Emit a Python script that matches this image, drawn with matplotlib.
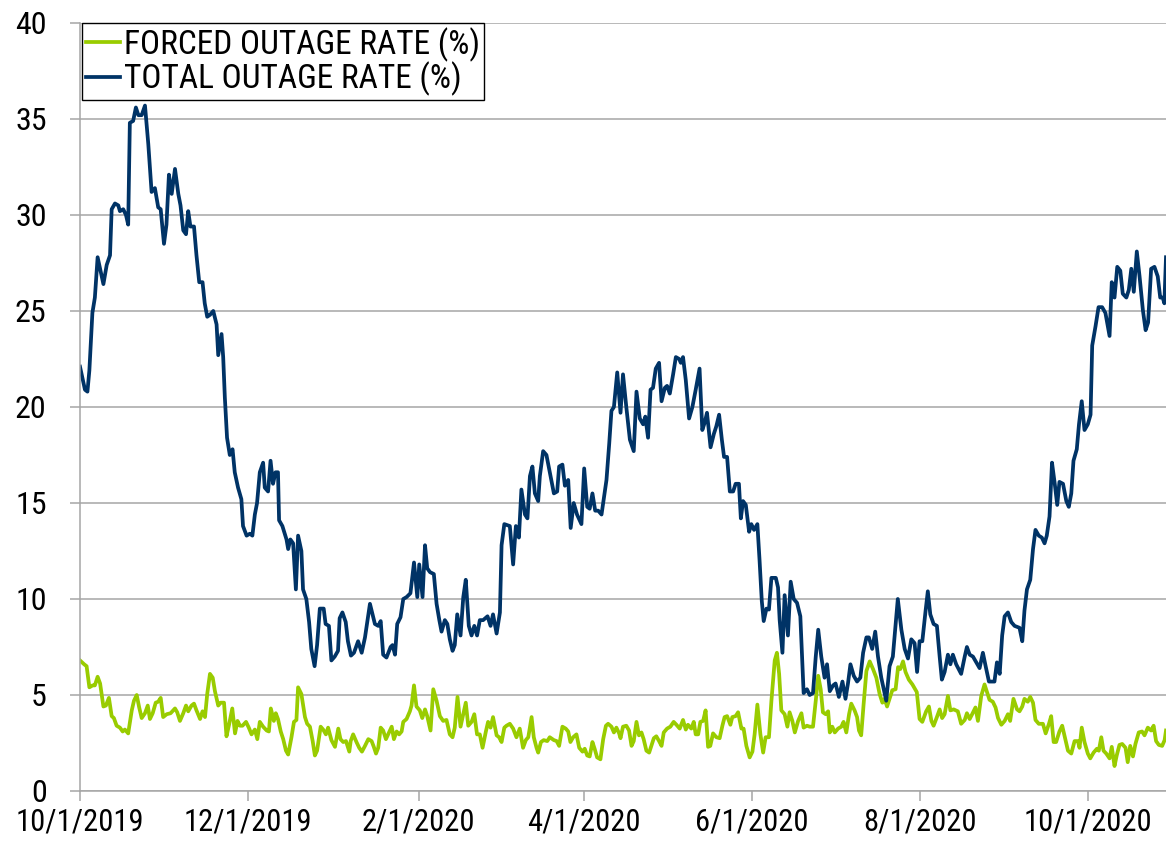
import datetime as dt

import matplotlib
matplotlib.use("Agg")
import matplotlib.pyplot as plt
import matplotlib.dates as mdates
from matplotlib import font_manager

# days after 10/1/2019 and rates (%)
total_day = [
    0, 1.8, 2.7, 3.4, 4.5, 5.4, 6.4, 8.5, 9.7, 10.9, 11.5, 12.7, 13.9, 14.5, 15.7, 16.7, 17.5, 18.1, 19.3, 20.3,
    21.2, 22.4, 23.6, 24.8, 26, 27.2, 28.4, 29.3, 30.5, 31.4, 32.3, 33.3, 34.5, 35.7, 36.5, 37.5, 38.5, 39.3, 40.1, 41.4,
    42.3, 43.3, 44.5, 45.3, 46.2, 47.2, 48.4, 49.6, 50.2, 51.4, 52, 52.6, 53.4, 54.4, 55.4, 56.2, 57.4, 58.6, 59.2, 60.5,
    61.7, 62.6, 63.5, 64.3, 65.3, 66.5, 67.1, 68.3, 69.2, 70.1, 71, 71.9, 72.3, 73.5, 75, 75.6, 76.4, 77.4, 78.4, 79.2,
    80.4, 81, 82.2, 83.2, 84, 85.2, 86.1, 87.1, 88.5, 89.2, 90.4, 91.3, 92.5, 93.7, 94.3, 95.3, 96.5, 97.3,
    98.4, 99.5, 101, 102.3, 103.5, 105.3, 107.1, 108.3, 109.2, 110.1, 111.3, 112.8, 113.5, 114.4, 115.2, 116.4, 117.4, 118.6, 120, 121.3,
    122.5, 123.2, 124.4, 125.3, 126.1, 127.1, 128.5, 129.5, 130.5, 131.3, 132.5, 133.4, 134.3, 135.3, 136.1, 137, 138.2, 139.2, 140.1, 141.2,
    142.2, 143.2, 144.2, 145.2, 146.4, 148, 149.1, 150, 151.3, 152.5, 153.1, 154.1, 156.1, 157.3, 158.3, 159.4, 160.3, 161.6, 162.5, 163.4,
    164.3, 165.2, 166.4, 167, 168.2, 169.4, 170.6, 172.1, 173.3, 174, 175.2, 176.1, 177.3, 178.2, 179.3, 180.5, 182.1, 183.1, 184.2, 185.1,
    186.1, 187.1, 188.2, 189.4, 191.2, 192.2, 193, 193.9, 195.1,
    196.3, 197.2, 198.4, 199.7, 201.1, 202.1, 203.3, 204.5, 205.3, 206.3, 207.2, 208.1, 209.1, 210.3, 211.2, 212.4, 213.2, 214.2, 215.4, 216.4,
    217.6, 218.2, 219, 220, 221.2, 222.4, 223.6, 225, 226, 226.9, 227.7, 229, 230.2, 231.1, 232.1, 233.1, 233.9, 235, 236, 237.2,
    238.1, 239.3, 240, 240.8, 241.8, 243, 243.8, 244.8, 246, 246.8, 247.6, 248.3, 249.3, 250.2, 251.1, 252.7, 253.5, 254.1, 255.1, 255.9,
    257.1, 258.1, 259.2, 260.4, 261.6, 262.8, 264, 265, 266.2, 267.2, 268.1, 269.2, 270.4, 271.3, 272.3, 273.5, 274.4, 275.6, 276.9, 278,
    278.9, 279.8, 281, 282.2, 283.4, 284.4, 285.6, 286.5, 287.7, 288.8, 289.8, 291, 292.8,
    294, 295.2, 297, 298.3, 299.5, 300.7, 301.9, 303.1, 304, 304.9, 305.9, 307.1, 307.9, 308.8, 310, 311.2, 312.2, 313, 314, 315.2,
    316.1, 317, 318.2, 320, 321.3, 322.1, 323.1, 324.3, 325.5, 326.7, 327.9, 328.9, 330.1, 331.3, 332.1, 333, 334, 334.9, 335.8, 337,
    338.2, 339.4, 341.2, 342.2, 343, 343.9, 345.1, 346.1, 347, 348.2, 349.3, 350.3, 351.1, 352.1, 353, 354, 354.9, 355.7, 357, 358.2,
    359.1, 360, 360.8, 362, 362.8, 363.8, 364.8, 366, 367, 367.6, 368.8, 369.9, 371.2, 372.4, 373.9, 374.7, 375.7, 376.7, 377.8, 378.7,
    380, 380.9, 381.8, 382.7, 383.8, 384.8, 386, 387, 387.9, 389, 390.2, 391.4, 392.3, 393.2, 393.8, 394.4,
]
total_pct = [
    22.1, 20.9, 20.8, 21.9, 24.9, 25.7, 27.8, 26.4, 27.4, 27.9, 30.3, 30.6, 30.5, 30.2, 30.3, 30.0, 29.5, 34.8, 34.9, 35.6,
    35.2, 35.2, 35.7, 33.7, 31.2, 31.4, 30.4, 30.3, 28.5, 29.5, 32.1, 31.1, 32.4, 31.1, 30.5, 29.2, 29.0, 30.2, 29.4, 29.4,
    27.9, 26.5, 26.5, 25.4, 24.7, 24.8, 25.0, 24.3, 22.7, 23.8, 22.6, 20.5, 18.4, 17.5, 17.8, 16.6, 15.8, 15.2, 13.8, 13.3,
    13.4, 13.3, 14.4, 15.0, 16.6, 17.1, 15.8, 15.6, 17.2, 16.0, 16.6, 16.6, 14.1, 13.8, 13.1, 12.6, 13.1, 12.9, 10.5, 13.3,
    12.5, 10.5, 10.0, 8.8, 7.4, 6.5, 7.6, 9.5, 9.5, 8.7, 8.6, 6.8, 7.0, 7.3, 9.0, 9.3, 8.8, 7.8,
    7.05, 7.2, 7.8, 7.2, 8.0, 9.75, 8.7, 8.6, 8.85, 7.1, 6.95, 7.5, 7.6, 7.1, 8.7, 9.05, 10.0, 10.1, 10.3, 11.9,
    10.1, 11.8, 10.1, 12.8, 11.6, 11.4, 11.3, 9.75, 8.9, 8.3, 8.9, 8.7, 7.9, 7.3, 7.6, 9.2, 8.1, 10.1, 11.0, 8.6,
    8.1, 8.6, 8.1, 8.9, 8.9, 9.1, 8.6, 9.2, 8.2, 9.3, 12.8, 13.9, 13.8, 11.8, 13.8, 13.2, 15.7, 14.4, 14.2, 16.4,
    16.9, 15.5, 15.1, 16.4, 17.7, 17.5, 16.6, 15.5, 15.6, 16.9, 17.0, 15.9, 16.2, 13.7, 15.0, 14.4, 13.9, 16.8, 14.8, 14.7,
    15.5, 14.6, 14.6, 14.4, 16.2, 18.1, 19.8, 20.0, 21.8,
    19.7, 21.7, 20.0, 18.3, 17.7, 20.8, 19.4, 19.1, 19.5, 18.4, 20.9, 21.0, 22.0, 22.3, 20.3, 21.0, 21.1, 20.7, 21.7, 22.6,
    22.5, 22.3, 22.6, 21.4, 19.4, 20.0, 20.9, 22.0, 18.8, 19.2, 19.7, 17.9, 18.6, 19.0, 19.6, 18.3, 17.4, 17.4, 15.6, 15.6,
    16.0, 16.0, 14.2, 15.1, 14.9, 13.5, 13.9, 13.6, 13.9, 12.0, 9.9, 8.85, 9.5, 9.45, 11.1, 11.1, 10.6, 8.9, 7.2, 10.2,
    8.1, 10.9, 10.0, 9.8, 9.1, 5.1, 5.3, 5.0, 5.1, 7.0, 8.4, 7.0, 5.9, 6.6, 5.2, 5.5, 5.6, 4.9, 5.7, 4.8,
    5.6, 6.6, 6.0, 5.7, 5.9, 7.2, 8.0, 8.0, 7.4, 8.3, 7.0, 5.9, 4.7,
    6.5, 7.0, 10.0, 8.4, 7.4, 6.9, 7.9, 7.7, 6.2, 7.8, 7.8, 9.4, 10.4, 9.2, 8.7, 8.6, 7.0, 5.8, 6.2, 7.1,
    6.6, 7.1, 6.6, 6.1, 7.0, 7.5, 7.1, 7.0, 6.7, 6.4, 7.2, 6.5, 5.7, 5.7, 5.7, 6.7, 6.1, 8.1, 9.1, 9.3,
    8.8, 8.6, 8.5, 7.8, 9.4, 10.5, 11.0, 12.6, 13.6, 13.3, 13.2, 12.9, 13.3, 14.3, 17.1, 16.0, 14.9, 16.1, 16.0, 15.1,
    14.8, 15.5, 17.2, 17.8, 19.1, 20.3, 18.8, 19.1, 19.6, 23.2, 24.2, 25.2, 25.2, 24.9, 23.7, 26.5, 25.7, 27.3, 27.1, 25.9,
    25.7, 26.1, 27.2, 26.0, 28.1, 26.8, 25.05, 24.0, 24.4, 27.2, 27.3, 26.8, 25.7, 25.7, 25.4, 27.8,
]

forced_day = [
    0, 1.5, 2.4, 3.4, 4.6, 5.4, 6.4, 7.3, 8.5, 9.4, 10.5, 11.5, 12.3, 13.3, 14.5, 15.5, 16.3, 17.5, 18.8, 19.6,
    20.6, 21.5, 22.4, 23.6, 24.6, 25.4, 26.4, 27.5, 28.4, 29.3, 30.2, 31.5, 32.9, 34.5, 35.3, 36.3, 37.5, 38.5, 39.3, 40.5,
    41.4, 42.3, 43.6, 44.5, 45.4, 46.2, 47.2, 48.2, 49, 50.2, 51.1, 52.3, 53.2, 54.2, 55.3, 56.3, 57.2, 58.1, 59, 60.3,
    61.3, 62.3, 63.5, 64.4, 65.3, 66.5, 67.8, 68.6, 69.3, 70.4, 71.1, 71.9, 72.9, 73.8, 74.8, 75.6, 76.8, 77.7, 78.6, 79.2,
    80.4, 81.7, 82.5, 83.5, 84.5, 85.3, 86.1, 87.4, 88.3, 89.3, 90.1, 91.3, 92.6, 93.8, 94.6, 95.6, 96.6, 97.8,
    98.3, 99.2, 100.4, 101.4, 102.4, 103.5, 104.7, 105.9, 106.7, 107.5, 108.3, 109.2, 110.1, 111.1, 111.9, 113.2, 114, 115, 115.9, 116.8,
    117.4, 118.6, 119.8, 120.4, 121.3, 122.2, 123.4, 124.3, 125.3, 126.1, 127.3, 128.3, 129.5, 130.7, 131.9, 133.1, 134.3, 135.3, 136.1, 137.1,
    138.2, 139.4, 140.1, 141, 142.2, 143.2, 144.2, 145.2, 146.2, 147.4, 148.2, 149.1, 150, 151.3, 152.2, 153.1, 154.1, 154.9, 156.1, 157.3,
    158.5, 159.7, 160.9, 161.9, 162.8, 164, 164.8, 165.8, 166.4, 167.4, 168.4, 169.7, 170.6, 172.1, 173.1, 174, 175.2, 176.4, 177.3, 178.1,
    179.1, 180.3, 181.3, 182.5, 183.3, 184.2, 185.1, 186.1, 186.9, 187.8, 189, 190, 191, 191.8, 193, 193.9, 194.8, 195.8,
    196.3, 197.2, 198.4, 199.4, 200.3, 201.1, 202.1, 203, 203.9, 204.7, 205.7, 206.7, 207.5, 208.4, 209.3, 210.3, 211.2, 212, 213.2, 214.4,
    215.6, 216.6, 217.8, 219, 220, 220.8, 222, 222.9, 223.6, 224.5, 225.3, 226.3, 227.2, 228.1, 228.9, 229.9, 231.1, 232.3, 233.3, 234.1,
    235, 236.2, 236.9, 238.1, 239, 240.2, 241, 242, 243.2, 244.2, 245, 246, 247.1, 248.1, 249, 250.2, 251.1, 252.3, 253.1, 253.9,
    254.7, 255.9, 256.9, 257.7, 258.7, 259.6, 260.8, 262, 262.8, 264, 265, 266.2, 267.2, 268.1, 269, 269.8, 270.8, 271.7, 272.3, 273.2,
    274.1, 275.3, 276.5, 277.3, 278.3, 279.3, 280.1, 281.3, 282.2, 282.9, 283.7, 284.6, 285.6, 286.8, 288, 289.2,
    290.4, 291.4, 292.2, 293.1, 294, 295, 296.2, 297.1, 297.9, 298.9, 299.8, 301, 302.3, 303.9, 304.9, 305.9, 307.3, 308.3, 309.2, 310,
    311.2, 312.2, 313.1, 314, 315.2, 316.1, 317.3, 318.8, 320, 321.3, 322.1, 323.1, 324, 325.2, 326.1, 327.3, 328.5, 329.4, 330.3, 331.5,
    332.5, 333.4, 334.6, 335.8, 337, 337.8, 339, 340.3, 341.2, 342.2, 343, 344.2, 345.1, 346.1, 347, 348.2, 349.7, 350.7, 351.9, 352.7,
    353.6, 354.5, 355.7, 356.7, 357.5, 358.8, 360, 361.2, 362.4, 363, 363.8, 364.8, 366, 366.9, 368.1, 369.3, 370, 370.9, 371.7, 372.7,
    373.9, 374.7, 375.7, 376.5, 377.5, 378.5, 379.7, 380.5, 381.4, 382.4, 383.3, 384.5, 385.7, 386.6, 387.8, 389, 389.9, 390.8, 391.8, 393,
    393.9, 394.4,
]
forced_pct = [
    6.8, 6.6, 6.5, 5.4, 5.5, 5.5, 5.95, 5.6, 4.4, 4.45, 4.85, 3.9, 3.8, 3.4, 3.3, 3.1, 3.2, 3.0, 4.2, 4.7,
    5.0, 4.35, 3.8, 4.05, 4.45, 3.75, 4.05, 4.6, 4.65, 4.85, 3.85, 4.0, 4.05, 4.3, 4.1, 3.65, 4.05, 4.45, 4.15, 4.45,
    4.55, 4.2, 3.75, 4.15, 3.85, 5.05, 6.1, 5.9, 5.2, 4.45, 4.6, 4.6, 2.85, 3.5, 4.3, 3.0, 3.65, 3.4, 3.4, 3.6,
    3.3, 2.95, 3.2, 2.7, 3.6, 3.35, 3.15, 3.1, 4.3, 3.65, 4.05, 3.75, 3.1, 2.7, 2.1, 1.9, 2.8, 3.6, 3.7, 5.4,
    5.05, 3.85, 3.5, 3.35, 2.6, 1.85, 2.1, 3.35, 3.2, 2.95, 3.3, 2.65, 2.3, 3.25, 2.7, 2.55, 2.6, 2.05,
    2.6, 2.95, 2.55, 2.25, 2.05, 2.35, 2.7, 2.6, 2.3, 1.95, 2.25, 3.3, 3.15, 2.7, 2.95, 3.35, 2.7, 3.1, 2.95, 3.1,
    3.6, 3.75, 4.15, 4.45, 5.5, 4.4, 4.2, 3.8, 4.25, 3.9, 3.15, 5.3, 4.7, 3.9, 3.65, 3.7, 2.95, 2.8, 3.3, 4.9,
    3.35, 4.15, 4.6, 3.4, 3.6, 4.0, 2.95, 2.95, 2.25, 3.1, 3.6, 3.3, 3.85, 2.9, 2.8, 2.55, 3.3, 3.4, 3.5, 3.25,
    2.8, 3.25, 2.25, 2.65, 2.8, 3.85, 2.8, 2.25, 2.0, 2.55, 2.65, 2.6, 2.8, 2.65, 2.6, 2.35, 3.35, 3.25, 3.1, 2.55,
    2.8, 2.95, 2.25, 2.05, 2.2, 1.85, 1.8, 2.55, 2.2, 1.75, 1.65, 2.7, 3.4, 3.5, 3.35, 3.05, 3.3, 3.0,
    2.75, 3.35, 3.4, 3.15, 2.35, 2.6, 3.6, 2.9, 3.05, 2.7, 2.1, 2.0, 2.35, 2.75, 2.85, 2.6, 2.35, 3.05, 3.25, 3.35,
    3.6, 3.45, 3.25, 3.7, 3.2, 3.45, 3.25, 3.6, 2.95, 2.95, 3.6, 3.65, 4.2, 2.3, 2.35, 3.0, 2.8, 2.75, 3.4, 3.85,
    3.9, 3.45, 3.85, 3.9, 4.1, 3.25, 3.25, 2.35, 1.75, 2.05, 2.95, 4.5, 2.95, 2.0, 2.8, 2.8, 4.7, 6.8, 7.2, 6.1,
    4.2, 4.0, 3.35, 4.1, 3.65, 3.05, 3.65, 4.05, 3.3, 3.4, 3.35, 3.35, 4.7, 6.0, 5.3, 4.1, 4.0, 4.15, 3.05, 3.35,
    3.05, 3.25, 3.35, 3.6, 3.05, 4.0, 4.55, 4.2, 3.85, 3.15, 2.9, 4.55, 6.25, 6.75, 6.35, 5.9,
    5.05, 4.6, 4.8, 4.4, 4.8, 5.25, 5.3, 6.45, 6.35, 6.75, 6.2, 5.8, 5.55, 5.15, 3.75, 3.6, 4.15, 4.4, 3.65, 3.4,
    3.85, 4.25, 3.8, 4.0, 4.95, 4.2, 4.25, 4.15, 3.5, 3.7, 4.05, 3.75, 4.0, 4.35, 3.65, 4.95, 5.55, 5.15, 4.75, 4.65,
    4.35, 3.8, 3.45, 3.65, 4.0, 3.65, 4.8, 4.25, 4.15, 4.4, 4.8, 4.65, 4.9, 4.6, 3.7, 3.5, 3.5, 3.0, 3.5, 3.9,
    2.55, 2.55, 3.1, 3.4, 2.9, 2.1, 1.95, 2.6, 2.6, 2.25, 3.3, 2.55, 1.95, 1.7, 2.0, 2.2, 2.1, 2.8, 2.1, 1.95,
    1.7, 2.3, 1.3, 1.85, 2.4, 2.45, 2.25, 1.5, 2.35, 1.8, 2.45, 3.05, 3.1, 2.9, 3.3, 3.15, 3.4, 2.6, 2.4, 2.35,
    2.65, 3.15,
]

tick_months = [10, 12, 2, 4, 6, 8]
start = dt.datetime(2019, 10, 1)
end_day = 394.4

FORCED_COLOR = "#99CC00"
TOTAL_COLOR = "#003366"
GRID = "#A6A6A6"


def pick_font():
    # the chart uses a narrow sans; take one if the machine has it
    fonts = font_manager.fontManager.ttflist
    names = {f.name for f in fonts}
    for name in ["Liberation Sans Narrow", "Arial Narrow", "Roboto Condensed",
                 "Open Sans Condensed", "Noto Sans Condensed"]:
        if name in names:
            return name, "normal", 22, 24
    for f in fonts:
        if f.name in ("Roboto", "Noto Sans", "Open Sans", "DejaVu Sans") and \
                f.stretch in ("condensed", "semi-condensed") and f.weight in (400, "normal", "regular"):
            return f.name, f.stretch, 22, 24
    return "Liberation Sans", "normal", 19, 20


FONT, STRETCH, FS, LEG_FS = pick_font()
plt.rcParams["font.family"] = [FONT, "DejaVu Sans"]
plt.rcParams["font.stretch"] = STRETCH


def to_num(days):
    base = mdates.date2num(start)
    return [base + d for d in days]


def main():
    assert len(total_day) == len(total_pct), (len(total_day), len(total_pct))
    assert len(forced_day) == len(forced_pct), (len(forced_day), len(forced_pct))

    fig = plt.figure(figsize=(11.66, 8.43), dpi=100)
    ax = fig.add_axes([80 / 1166, 52 / 843, 1086 / 1166, 768 / 843])

    ax.plot(to_num(forced_day), forced_pct, color=FORCED_COLOR, lw=2.7,
            label="FORCED OUTAGE RATE (%)", solid_joinstyle="round")
    ax.plot(to_num(total_day), total_pct, color=TOTAL_COLOR, lw=2.7,
            label="TOTAL OUTAGE RATE (%)", solid_joinstyle="round")

    ax.set_xlim(mdates.date2num(start), mdates.date2num(start) + end_day)
    ax.set_ylim(0, 40)
    ax.set_yticks(range(0, 41, 5))
    ax.yaxis.grid(True, color=GRID, lw=1.1)
    ax.set_axisbelow(True)

    ax.xaxis.set_major_locator(mdates.MonthLocator(bymonth=tick_months, bymonthday=1))
    ax.xaxis.set_major_formatter(plt.FuncFormatter(
        lambda v, pos: (lambda d: f"{d.month}/{d.day}/{d.year}")(mdates.num2date(v))))

    for side in ["top", "right"]:
        ax.spines[side].set_visible(False)
    for side in ["left", "bottom"]:
        ax.spines[side].set_color(GRID)
        ax.spines[side].set_linewidth(1.1)

    ax.tick_params(axis="both", colors=GRID, labelcolor="black", labelsize=FS,
                   length=7, width=1.1, direction="out")
    ax.tick_params(axis="y", labelsize=FS + 1, pad=17)
    ax.tick_params(axis="x", pad=5)

    leg = ax.legend(loc="upper left", bbox_to_anchor=(0.002, 1.0), borderaxespad=0,
                    fontsize=LEG_FS, frameon=True, fancybox=False, framealpha=1,
                    edgecolor="black", handlelength=1.0, handletextpad=0.12,
                    labelspacing=0.0, borderpad=0.12)
    leg.get_frame().set_linewidth(1.0)

    fig.savefig("out.png", dpi=100)


if __name__ == "__main__":
    main()
